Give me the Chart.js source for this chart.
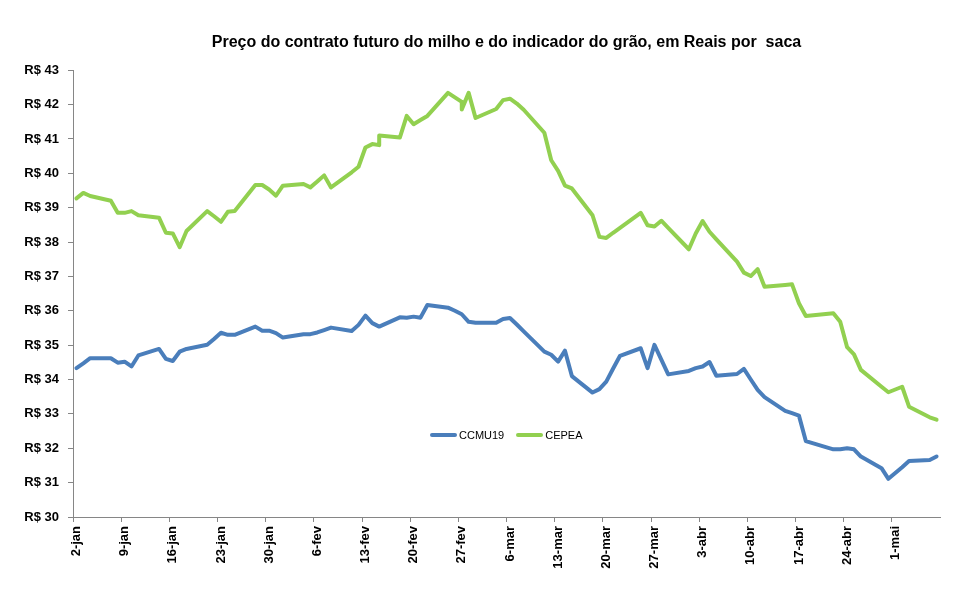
<!DOCTYPE html>
<html lang="pt-BR">
<head>
<meta charset="utf-8">
<title>Milho - contrato futuro e indicador CEPEA</title>
<script src="https://cdn.jsdelivr.net/npm/chart.js@4.4.1/dist/chart.umd.min.js"></script>
<style>
  body { margin: 0; background: #fff; }
  #wrap { position: relative; width: 958px; height: 591px; }
  #legenda { position: absolute; left: 430px; top: 429px; display: flex; align-items: center;
             font: 11px "Liberation Sans", Arial, sans-serif; color: #000; }
  #legenda .item { display: flex; align-items: center; margin-right: 12px; }
  #legenda .linha { display: inline-block; width: 27px; height: 4px; border-radius: 2px; margin-right: 2px; }
</style>
</head>
<body>
<div id="wrap">
  <canvas id="grafico" width="958" height="591"></canvas>
  <div id="legenda"></div>
</div>
<script>
// valores (R$ por saca)
const meses = ["jan", "fev", "mar", "abr", "mai"];

const datasCCMU19 = [
  "2-jan", "3-jan", "4-jan", "7-jan", "8-jan", "9-jan", "10-jan", "11-jan", "14-jan", "15-jan",
  "16-jan", "17-jan", "18-jan", "21-jan", "22-jan", "23-jan", "24-jan", "25-jan", "28-jan", "29-jan",
  "30-jan", "31-jan", "1-fev", "4-fev", "5-fev", "6-fev", "7-fev", "8-fev", "11-fev", "12-fev",
  "13-fev", "14-fev", "15-fev", "18-fev", "19-fev", "20-fev", "21-fev", "22-fev", "25-fev",
  "26-fev", "27-fev", "28-fev", "1-mar", "4-mar", "5-mar", "6-mar", "7-mar", "8-mar",
  "11-mar", "12-mar", "13-mar", "14-mar", "15-mar", "18-mar", "19-mar", "20-mar", "21-mar", "22-mar",
  "25-mar", "26-mar", "27-mar", "28-mar", "29-mar", "1-abr", "2-abr", "3-abr", "4-abr", "5-abr",
  "8-abr", "9-abr", "10-abr", "11-abr", "12-abr", "15-abr", "16-abr", "17-abr", "18-abr", "22-abr",
  "23-abr", "24-abr", "25-abr", "26-abr", "29-abr", "30-abr", "2-mai", "3-mai", "6-mai", "7-mai"
];
const valoresCCMU19 = [
  34.33, 34.47, 34.62, 34.62, 34.49, 34.52, 34.38, 34.70, 34.89, 34.60,
  34.54, 34.81, 34.89, 35.01, 35.18, 35.36, 35.30, 35.30, 35.54, 35.42,
  35.42, 35.35, 35.22, 35.32, 35.32, 35.37, 35.44, 35.51, 35.41, 35.59,
  35.86, 35.64, 35.54, 35.81, 35.80, 35.83, 35.80, 36.17, 36.09,
  36.00, 35.90, 35.68, 35.65, 35.65, 35.76, 35.79, 35.60, 35.40,
  34.81, 34.72, 34.52, 34.84, 34.10, 33.62, 33.72, 33.94, 34.32, 34.69,
  34.91, 34.33, 35.01, 34.58, 34.15, 34.25, 34.33, 34.38, 34.51, 34.11,
  34.16, 34.31, 34.00, 33.70, 33.49, 33.09, 33.02, 32.95, 32.21, 31.97,
  31.97, 32.00, 31.97, 31.76, 31.42, 31.11, 31.45, 31.63, 31.66, 31.76
];

const datasCEPEA = [
  "2-jan", "3-jan", "4-jan", "7-jan", "8-jan", "9-jan", "10-jan", "11-jan", "14-jan", "15-jan",
  "16-jan", "17-jan", "18-jan", "21-jan", "22-jan", "23-jan", "24-jan", "25-jan", "28-jan", "29-jan",
  "30-jan", "31-jan", "1-fev", "4-fev", "5-fev", "6-fev", "7-fev", "8-fev", "11-fev", "12-fev",
  "13-fev", "14-fev", "15-fev", "15-fev", "18-fev", "19-fev", "20-fev", "21-fev", "22-fev", "25-fev",
  "26-fev", "27-fev", "27-fev", "28-fev", "1-mar", "4-mar", "5-mar", "6-mar", "7-mar", "8-mar",
  "11-mar", "12-mar", "13-mar", "14-mar", "15-mar", "18-mar", "19-mar", "20-mar", "21-mar", "22-mar",
  "25-mar", "26-mar", "27-mar", "28-mar", "29-mar", "1-abr", "2-abr", "3-abr", "4-abr", "5-abr",
  "8-abr", "9-abr", "10-abr", "11-abr", "12-abr", "15-abr", "16-abr", "17-abr", "18-abr", "22-abr",
  "23-abr", "24-abr", "25-abr", "26-abr", "29-abr", "30-abr", "2-mai", "3-mai", "6-mai", "7-mai"
];
const valoresCEPEA = [
  39.27, 39.43, 39.34, 39.20, 38.85, 38.85, 38.90, 38.78, 38.71, 38.27,
  38.25, 37.85, 38.32, 38.90, 38.75, 38.59, 38.88, 38.90, 39.66, 39.66,
  39.53, 39.35, 39.64, 39.69, 39.59, 39.76, 39.94, 39.59, 40.03, 40.19,
  40.75, 40.85, 40.82, 41.10, 41.04, 41.67, 41.43, 41.55, 41.67, 42.34,
  42.21, 42.08, 41.86, 42.34, 41.61, 41.87, 42.13, 42.17, 42.03, 41.85,
  41.18, 40.38, 40.07, 39.64, 39.56, 38.78, 38.15, 38.12, 38.27, 38.41,
  38.85, 38.49, 38.45, 38.62, 38.41, 37.79, 38.25, 38.61, 38.30, 38.08,
  37.43, 37.11, 37.01, 37.21, 36.70, 36.75, 36.77, 36.22, 35.85, 35.93,
  35.68, 34.94, 34.73, 34.28, 33.79, 33.63, 33.79, 33.21, 32.90, 32.83
];

// eixo x com todos os dias corridos, de 2-jan a 7-mai
const dias = [];
for (let d = new Date(2019, 0, 2); d <= new Date(2019, 4, 7); d.setDate(d.getDate() + 1)) {
  dias.push(d.getDate() + "-" + meses[d.getMonth()]);
}

const fonte = "'Liberation Sans', Arial, sans-serif";
const cinza = "#868686";

const series = [
  { label: "CCMU19", datas: datasCCMU19, valores: valoresCCMU19, cor: "#4A7EBB" },
  { label: "CEPEA", datas: datasCEPEA, valores: valoresCEPEA, cor: "#92D050" }
];

new Chart(document.getElementById("grafico"), {
  type: "line",
  data: {
    labels: dias,
    datasets: series.map(s => ({
      label: s.label,
      data: s.datas.map((dt, i) => ({ x: dt, y: s.valores[i] })),
      borderColor: s.cor,
      backgroundColor: s.cor,
      borderWidth: 4,
      borderJoinStyle: "round",
      borderCapStyle: "round",
      pointRadius: 0,
      tension: 0,
      fill: false
    }))
  },
  options: {
    responsive: false,
    animation: false,
    devicePixelRatio: 1,
    layout: { padding: { left: 0, right: 18, top: 0, bottom: 0 } },
    plugins: {
      legend: { display: false },
      tooltip: { enabled: false },
      title: {
        display: true,
        fullSize: false,
        text: "Preço do contrato futuro do milho e do indicador do grão, em Reais por  saca",
        color: "#000",
        font: { family: fonte, size: 16, weight: "bold" },
        padding: { top: 33, bottom: 18 }
      }
    },
    scales: {
      x: {
        type: "category",
        offset: true,
        border: { color: cinza, width: 1 },
        grid: {
          offset: true,
          drawOnChartArea: false,
          tickLength: 5,
          color: ctx => (ctx.index % 7 === 0 ? cinza : "rgba(0,0,0,0)")
        },
        ticks: {
          autoSkip: false,
          minRotation: 90,
          maxRotation: 90,
          padding: 4,
          color: "#000",
          font: { family: fonte, size: 13, weight: "bold" },
          callback: (v, i) => (i % 7 === 0 ? dias[i] : "")
        },
        afterFit: s => { s.height = 74; }
      },
      y: {
        min: 30,
        max: 43,
        border: { color: cinza, width: 1 },
        grid: { drawOnChartArea: false, tickLength: 5, color: cinza },
        ticks: {
          stepSize: 1,
          padding: 9,
          color: "#000",
          font: { family: fonte, size: 13, weight: "bold" },
          callback: v => "R$ " + v
        },
        afterFit: s => { s.width = 73; }
      }
    }
  }
});

// legenda dentro da área do gráfico
const legenda = document.getElementById("legenda");
series.forEach(s => {
  const item = document.createElement("span");
  item.className = "item";
  const linha = document.createElement("span");
  linha.className = "linha";
  linha.style.background = s.cor;
  item.appendChild(linha);
  item.appendChild(document.createTextNode(s.label));
  legenda.appendChild(item);
});
</script>
</body>
</html>
